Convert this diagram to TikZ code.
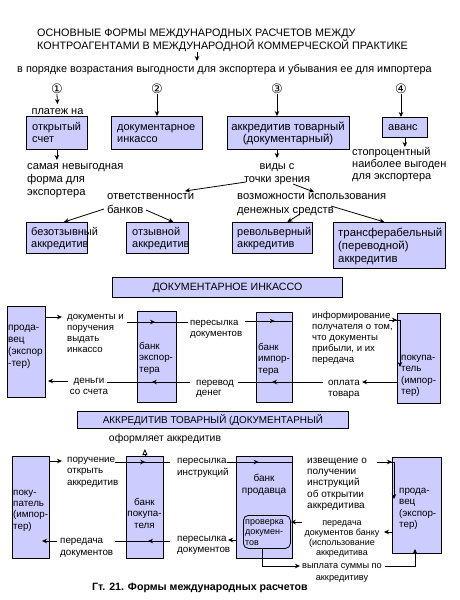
\documentclass[tikz,border=0pt]{standalone}
\usepackage{fontspec}
\setmainfont{Liberation Sans}
\newfontfamily\symfont{DejaVu Sans}
\usetikzlibrary{arrows.meta,decorations.markings,calc}
\definecolor{boxc}{RGB}{204,204,255}
\newcommand{\sr}{\rule{0pt}{8pt}}
\begin{document}
\begin{tikzpicture}[x=1pt,y=-1pt,
  box/.style={draw=black,fill=boxc,line width=0.8pt,inner sep=0pt,anchor=north west},
  rbox/.style={box,rounded corners=5pt},
  txt/.style={inner sep=0pt,anchor=north west,align=left,font=\fontsize{11}{12}\selectfont},
  ctxt/.style={txt,anchor=north,align=center},
  sym/.style={inner sep=0pt,font=\symfont\fontsize{13}{13}\selectfont},
  ln/.style={line width=0.8pt},
  arr/.style={ln,-{Stealth[length=5pt,width=4.5pt]}},
  oarr/.style={ln,-{Triangle[open,length=6pt,width=5pt]}},
  mid/.style={ln,postaction={decorate},decoration={markings,mark=at position #1 with {\arrow{Stealth[length=5pt,width=4.5pt]}}}},
  mid/.default=0.5
]
\fill[white] (0,0) rectangle (460,600);
\useasboundingbox (0,0) rectangle (460,600);

% ---------- title ----------
\node[txt,font=\fontsize{10.8}{13}\selectfont] (title) at (37,28) {\sr ОСНОВНЫЕ ФОРМЫ МЕЖДУНАРОДНЫХ РАСЧЕТОВ МЕЖДУ\\КОНТРОАГЕНТАМИ В МЕЖДУНАРОДНОЙ КОММЕРЧЕСКОЙ ПРАКТИКЕ};
\node[txt,font=\fontsize{10.9}{12}\selectfont] (sub) at (17,64) {\sr в порядке возрастания выгодности для экспортера и убывания ее для импортера};
\coordinate (ta) at (197,61);
\draw[arr] (title.south -| ta) -- (ta);

% ---------- numbers ----------
\node[sym] (n1) at (57,89) {①};
\node[sym] (n2) at (157,89) {②};
\node[sym] (n3) at (277,89) {③};
\node[sym] (n4) at (401,89) {④};

\node[ctxt] (pl) at (57.5,106) {\sr платеж на};

% ---------- boxes row 1 ----------
\node[box,minimum width=61pt,minimum height=33pt] (b1) at (26,116) {};
\node[box,minimum width=91pt,minimum height=33pt] (b2) at (111,116) {};
\node[box,minimum width=122pt,minimum height=33pt] (b3) at (227,116) {};
\node[box,minimum width=45pt,minimum height=20pt] (b4) at (382,117) {};
\node[txt] (tb1) at (32,122) {\sr открытый\\счет};
\node[txt] (tb2) at (117,122) {\sr документарное\\инкассо};
\node[ctxt,font=\fontsize{11.4}{12}\selectfont] (tb3) at (288,122) {\sr аккредитив товарный\\(документарный)};
\node[txt] (tb4) at (388,122) {\sr аванс};

\draw[arr] (n1.south) -- ($(pl.north)+(0,-2)$);
\draw[arr] (n2.south) -- (b2.north -| n2.south);
\draw[arr] (n3.south) -- (b3.north -| n3.south);
\draw[arr] (n4.south) -- (b4.north -| n4.south);

% ---------- notes under row 1 ----------
\node[txt,font=\fontsize{11.2}{13}\selectfont] (s1) at (27,161) {\sr самая невыгодная\\форма для\\экспортера};
\node[ctxt,font=\fontsize{11}{13}\selectfont] (vid) at (277,161) {\sr виды с\\точки зрения};
\node[txt] (sto) at (352,147) {\sr стопроцентный\\наиболее выгоден\\для экспортера};
\draw[arr] (b1.south) -- ($(b1.south |- s1.north)+(0,-1)$);
\draw[arr] (b3.south -| n3.south) -- ($(vid.north)+(0,-3)$);
\draw[arr] (b4.south) -- (b4.south |- sto.north);

\node[txt,font=\fontsize{11.3}{14}\selectfont] (otv) at (107,191) {\sr ответственности\\банков};
\node[txt,font=\fontsize{11.2}{14}\selectfont] (voz) at (237,191) {\sr возможности использования\\денежных средств};
\coordinate (v1) at (246,182);
\coordinate (o1) at (185,191);
\coordinate (v2) at (293,184);
\coordinate (z1) at (314,192);
\draw[arr] (v1) -- (o1);
\draw[arr] (v2) -- (z1);

% ---------- boxes row 2 ----------
\node[box,minimum width=61pt,minimum height=31pt] (b5) at (26,222) {};
\node[box,minimum width=62pt,minimum height=31pt] (b6) at (126,222) {};
\node[box,minimum width=80pt,minimum height=31pt] (b7) at (232,222) {};
\node[box,minimum width=112pt,minimum height=46pt] (b8) at (333,222) {};
\node[txt] (tb5) at (31,227) {\sr безотзывный\\аккредитив};
\node[txt] (tb6) at (132,227) {\sr отзывной\\аккредитив};
\node[txt] (tb7) at (237,227) {\sr револьверный\\аккредитив};
\node[txt,font=\fontsize{11.4}{13}\selectfont] (tb8) at (338,228) {\sr трансферабельный\\(переводной)\\аккредитив};

\coordinate (k1) at (104,209);
\coordinate (k2) at (146,210);
\coordinate (d1) at (300,214);
\coordinate (d2) at (331,206);
\draw[arr] (k1) -- ($(b5.north)+(7,0)$);
\draw[arr] (k2) -- ($(b6.north)+(16,0)$);
\draw[arr] (d1) -- ($(b7.north)+(15,0)$);
\draw[arr] (d2) -- ($(b8.north)+(-5,0)$);

% ---------- documentary collection ----------
\node[box,minimum width=230pt,minimum height=20pt,font=\fontsize{10.6}{12}\selectfont] (h1) at (112,277) {ДОКУМЕНТАРНОЕ ИНКАССО};

\node[box,minimum width=38pt,minimum height=91pt] (sel1) at (7,306) {};
\node[box,minimum width=39pt,minimum height=91pt] (bex) at (137,311) {};
\node[box,minimum width=36pt,minimum height=90pt] (bim) at (256,312) {};
\node[box,minimum width=43pt,minimum height=90pt] (buy1) at (397,313) {};
\node[txt,font=\fontsize{10}{12}\selectfont] (tsel1) at (8,322) {\sr прода-\\вец\\(экспор\\-тер)};
\node[txt,font=\fontsize{9.8}{11.5}\selectfont] (tbex) at (139,341) {\sr банк\\экспор-\\тера};
\node[txt,font=\fontsize{9.8}{11.5}\selectfont] (tbim) at (258,342) {\sr банк\\импор-\\тера};
\node[txt,font=\fontsize{9.8}{11.5}\selectfont] (tbuy1) at (401,352) {\sr покупа-\\тель\\(импор-\\тер)};

\node[txt,font=\fontsize{9.6}{11}\selectfont] (T1) at (67,311) {\sr документы и\\поручения\\выдать\\инкассо};
\node[txt,font=\fontsize{9.6}{11}\selectfont] (T2) at (190,317) {\sr пересылка\\документов};
\node[txt,font=\fontsize{9.6}{11}\selectfont] (T3) at (312,310) {\sr информирование\\получателя о том,\\что документы\\прибыли, и их\\передача};
\node[ctxt,font=\fontsize{9.8}{11}\selectfont] (T4) at (89,375) {\sr деньги\\со счета};
\node[txt,font=\fontsize{9.8}{10.5}\selectfont] (T5) at (196,377) {\sr перевод\\денег};
\node[txt,font=\fontsize{9.8}{11}\selectfont] (T6) at (328,377) {\sr оплата\\товара};

\coordinate (c1) at (62,317);
\coordinate (c2a) at (127,322);
\coordinate (c2b) at (188,322);
\coordinate (c3a) at (245,321);
\coordinate (c4a) at (389,320);
\coordinate (c4b) at (400,367);
\coordinate (c5) at (362,382);
\coordinate (c6a) at (323,382);
\coordinate (c6b) at (238,382);
\coordinate (c7a) at (190,382);
\coordinate (c7b) at (107,382);
\coordinate (c8a) at (68,381);
\coordinate (c8b) at (48,381);
\draw[arr] (sel1.east |- c1) -- (c1);
\draw[mid=0.46] (c2a) -- (c2b);
\draw[mid=0.62] (c3a) -- (bim.east |- c3a);
\draw[arr,mid=8pt] (c4a) -- (c4b |- c4a) -- (c4b);
\draw[arr] (buy1.west |- c5) -- (c5);
\draw[mid=0.6] (c6a) -- (c6b);
\draw[mid=0.46] (c7a) -- (c7b);
\draw[arr] (c8a) -- (c8b);

% ---------- letter of credit ----------
\node[box,minimum width=271pt,minimum height=17pt,font=\fontsize{9.9}{12}\selectfont] (h2) at (77,411) {АККРЕДИТИВ ТОВАРНЫЙ (ДОКУМЕНТАРНЫЙ};
\node[ctxt,font=\fontsize{10.4}{12}\selectfont] (ofo) at (165,433) {\sr оформляет аккредитив};

\node[box,minimum width=37pt,minimum height=102pt] (pb) at (12,456) {};
\node[box,minimum width=37pt,minimum height=102pt] (kb1) at (126,456) {};
\node[box,minimum width=56pt,minimum height=102pt] (kb2) at (236,456) {};
\node[rbox,minimum width=47pt,minimum height=33pt] (rb) at (243,515) {};
\node[box,minimum width=49pt,minimum height=96pt] (ps) at (392,457) {};
\node[txt,font=\fontsize{9.8}{11.3}\selectfont] (tpb) at (13,487) {\sr поку-\\патель\\(импор-\\тер)};
\node[ctxt,font=\fontsize{9.8}{11.5}\selectfont] (tkb1) at (144.5,497) {\sr банк\\покупа-\\теля};
\node[ctxt,font=\fontsize{10}{12}\selectfont] (tkb2) at (264,473) {\sr банк\\продавца};
\node[txt,font=\fontsize{9}{10.5}\selectfont] (trb) at (245,516) {\sr проверка\\докумен-\\тов};
\node[txt,font=\fontsize{9.8}{11.5}\selectfont] (tps) at (399,485) {\sr прода-\\вец\\(экспор-\\тер)};

\draw[oarr] (kb1.north) -- ++(0,-7);

\node[txt,font=\fontsize{9.8}{11.5}\selectfont] (A1) at (67,454) {\sr поручение\\открыть\\аккредитив};
\node[txt,font=\fontsize{9.8}{12}\selectfont] (A2) at (177,455) {\sr пересылка\\инструкций};
\node[txt,font=\fontsize{10}{11.3}\selectfont] (A3) at (307,455) {\sr извещение о\\получении\\инструкций\\об открытии\\аккредитива};
\node[txt,font=\fontsize{9.8}{12}\selectfont] (A4) at (60,535) {\sr передача\\документов};
\node[txt,font=\fontsize{9.8}{11}\selectfont] (A5) at (177,533) {\sr пересылка\\документов};
\node[ctxt,font=\fontsize{9}{10}\selectfont] (A6) at (342,517) {\sr передача\\документов банку\\(использование\\аккредитива};
\node[ctxt,font=\fontsize{9.2}{12}\selectfont] (A7) at (342,560) {\sr выплата суммы по\\аккредитиву};

\coordinate (e1) at (62,461);
\coordinate (e2a) at (115,462);
\coordinate (e2b) at (170,462);
\coordinate (e3a) at (227,462);
\coordinate (e4a) at (377,462);
\coordinate (e4b) at (394,499);
\coordinate (e5) at (384,532);
\coordinate (e6) at (302,522);
\coordinate (e7) at (228,540);
\coordinate (e8a) at (170,541);
\coordinate (e8b) at (115,541);
\coordinate (e9a) at (57,541);
\coordinate (e9b) at (42,541);
\coordinate (e10) at (262,566);
\coordinate (e11) at (300,566);
\coordinate (e12) at (385,566);
\coordinate (e13) at (415,549);

\draw[arr] (pb.east |- e1) -- (e1);
\draw[mid=0.55] (e2a) -- (e2b);
\draw[mid=0.48] (e3a) -- (kb2.east |- e3a);
\draw[arr,mid=15pt] (e4a) -- (e4b |- e4a) -- (e4b);
\draw[arr] (ps.west |- e5) -- (e5);
\draw[arr] (e6) -- (rb.east |- e6);
\draw[arr] (kb2.west |- e7) -- (e7);
\draw[mid=0.4] (e8a) -- (e8b);
\draw[arr] (e9a) -- (e9b);
\draw[arr] (rb.south -| e10) -- (e10) -- (e11);
\draw[arr] (e12) -- (e13 |- e12) -- (e13);

\node[txt,font=\bfseries\fontsize{10.6}{12}\selectfont] (cap) at (92,582) {\sr Гт. 21. Формы международных расчетов};
\end{tikzpicture}
\end{document}
